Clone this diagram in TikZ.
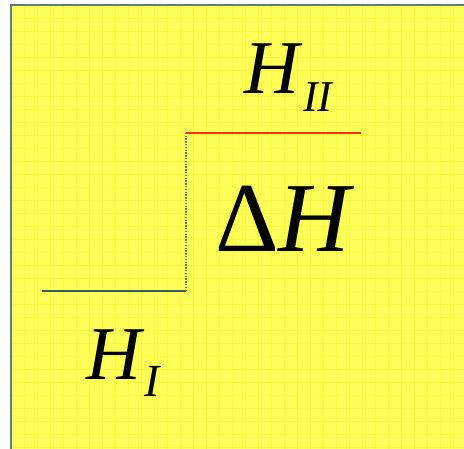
\documentclass[tikz,border=0pt]{standalone}
\usepackage{fontspec}
\setmainfont{Liberation Serif}
\definecolor{bgyellow}{RGB}{255,255,90}
\definecolor{gridcol}{RGB}{255,240,40}
\definecolor{framecol}{RGB}{95,125,125}
\definecolor{lowline}{RGB}{55,95,85}
\definecolor{highline}{RGB}{255,45,10}
\definecolor{dotcol}{RGB}{90,125,110}
\begin{document}
\begin{tikzpicture}[x=1pt,y=-1pt,
  lbl/.style={inner sep=0pt,anchor=base west,font=\itshape},
  level/.style={line width=2.5pt}]
\useasboundingbox (0,0) rectangle (464,449);
\fill[white] (0,0) rectangle (464,449);
\fill[bgyellow] (11,5) rectangle (464,449);
% faint grid texture
\foreach \i in {0,...,35} {
  \draw[gridcol,line width=0.8pt,opacity=0.5] (11+\i*13,5) -- (11+\i*13,449);
  \draw[gridcol,line width=0.8pt,opacity=0.5] (11,5+\i*13) -- (464,5+\i*13);
}
\draw[framecol,line width=1.5pt] (11,449) -- (11,5) -- (464,5);
% levels
\coordinate (lowL) at (42,291);
\coordinate (lowR) at (186,291);
\coordinate (highL) at (186,133);
\coordinate (highR) at (361,133);
\draw[level,lowline] (lowL) -- (lowR);
\draw[level,highline] (highL) -- (highR);
\draw[dotcol,line width=1.3pt,dash pattern=on 1.3pt off 1.5pt] (lowR) -- (highL);
% labels
\node[lbl,font=\itshape\fontsize{76}{76}\selectfont] (h2) at (244,94) {H};
\node[lbl,font=\itshape\fontsize{44}{44}\selectfont] (s2) at (303,112) {II};
\node[lbl,font=\fontsize{99}{99}\selectfont] (dh) at (215,252) {\textup{Δ}\textit{H}};
\node[lbl,font=\itshape\fontsize{76}{76}\selectfont] (h1) at (86,380) {H};
\node[lbl,font=\itshape\fontsize{46}{46}\selectfont] (s1) at (144,397) {I};
\end{tikzpicture}
\end{document}
